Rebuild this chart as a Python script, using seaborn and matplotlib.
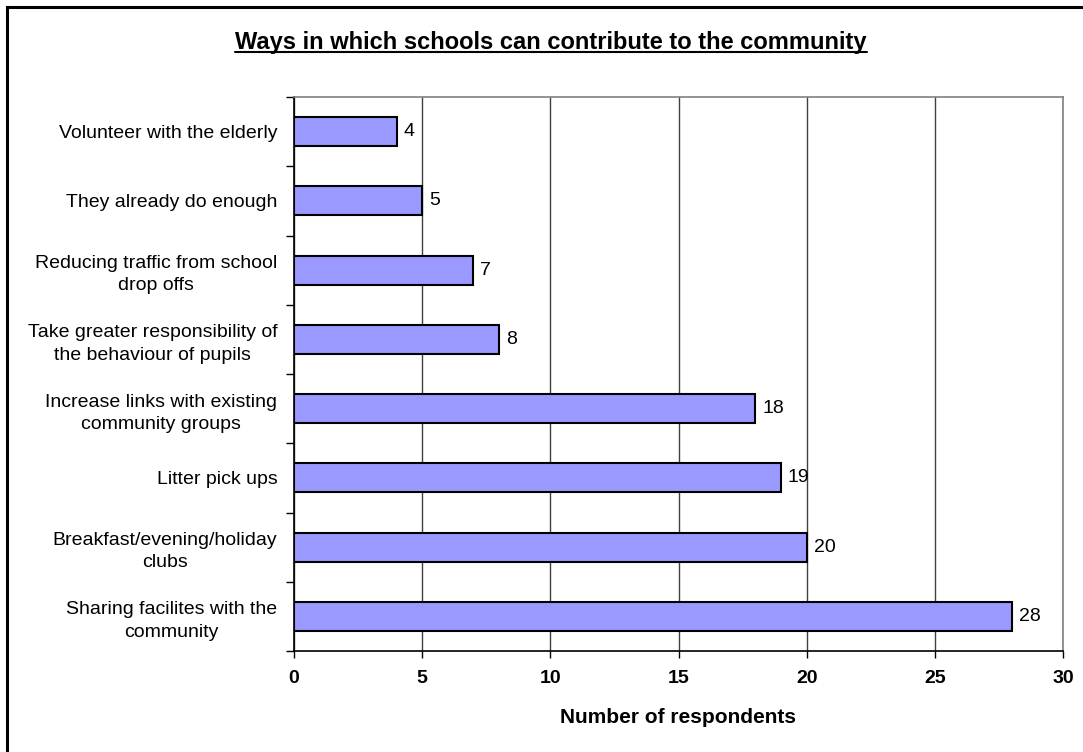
import matplotlib
matplotlib.use('Agg')
import matplotlib.pyplot as plt
import seaborn as sns
from matplotlib.lines import Line2D
from matplotlib.patches import Rectangle

# data (top to bottom)
categories = [
    "Volunteer with the elderly",
    "They already do enough",
    "Reducing traffic from school\ndrop offs",
    "Take greater responsibility of\nthe behaviour of pupils",
    "Increase links with existing\ncommunity groups",
    "Litter pick ups",
    "Breakfast/evening/holiday\nclubs",
    "Sharing facilites with the\ncommunity",
]
respondents = [4, 5, 7, 8, 18, 19, 20, 28]
x_ticks = [0, 5, 10, 15, 20, 25, 30]

sns.set_style('white')
plt.rcParams['font.family'] = ['Liberation Sans', 'DejaVu Sans']
plt.rcParams['text.color'] = 'black'
plt.rcParams['axes.labelcolor'] = 'black'
plt.rcParams['xtick.color'] = 'black'
plt.rcParams['ytick.color'] = 'black'

fig = plt.figure(figsize=(10.83, 7.52), dpi=100)
ax = fig.add_axes([294 / 1083, 101 / 752, 769 / 1083, 554 / 752])

sns.barplot(x=respondents, y=categories, orient='h', color='#9999FF',
            saturation=1, edgecolor='black', linewidth=1.5, width=0.42,
            zorder=3, ax=ax)

ax.set_xlim(0, 30)
ax.set_ylim(len(categories) - 0.5, -0.5)
ax.set_xticks(x_ticks)
ax.set_xticklabels([str(t) for t in x_ticks], fontsize=14, fontweight='bold')
ax.tick_params(axis='x', bottom=True, direction='out', length=5, width=1, pad=9)

# category labels without marks, ticks between categories
ax.set_yticks(range(len(categories)))
ax.set_yticklabels(categories, fontsize=14, multialignment='center', linespacing=1.4)
ax.tick_params(axis='y', which='major', left=True, length=0, pad=12)
ax.set_yticks([i - 0.5 for i in range(len(categories) + 1)], minor=True)
ax.tick_params(axis='y', which='minor', left=True, direction='out', length=6, width=1)

ax.xaxis.grid(True, color='#404040', linewidth=1)
ax.set_axisbelow(True)
for side in ['top', 'right']:
    ax.spines[side].set_color('#808080')
    ax.spines[side].set_linewidth(1.2)
for side in ['left', 'bottom']:
    ax.spines[side].set_color('black')
    ax.spines[side].set_linewidth(1.2)

for c in ax.containers:
    ax.bar_label(c, padding=5, fontsize=14)

ax.set_xlabel('Number of respondents', fontsize=15, fontweight='bold', labelpad=15)
ax.set_ylabel('')

title = fig.text(551 / 1083, 1 - 42 / 752, 'Ways in which schools can contribute to the community',
                 ha='center', va='center', fontsize=17, fontweight='bold')

# outer chart frame
fig.patches.append(Rectangle((7 / 1083, -0.05), 1.2, 1 - 7 / 752 + 0.05,
                             transform=fig.transFigure, fill=False,
                             edgecolor='black', linewidth=2.2))

# underline the title
fig.canvas.draw()
bb = title.get_window_extent().transformed(fig.transFigure.inverted())
fig.lines.append(Line2D([bb.x0, bb.x1], [bb.y0 + 0.002, bb.y0 + 0.002],
                        transform=fig.transFigure, color='black', linewidth=1.5))

fig.savefig('out.png', dpi=100)
